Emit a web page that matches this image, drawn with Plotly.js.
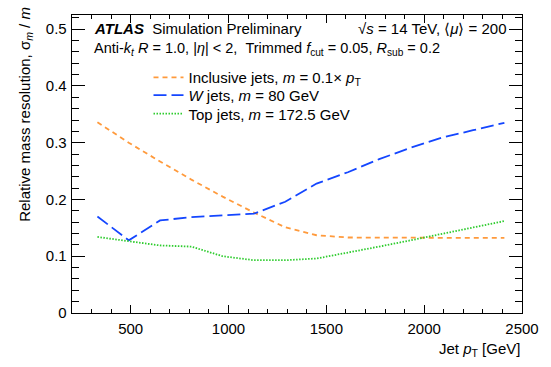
<!DOCTYPE html>
<html>
<head>
<meta charset="utf-8">
<script src="https://cdn.plot.ly/plotly-3.0.1.min.js"></script>
<style>html,body{margin:0;padding:0;background:#fff;}#chart{width:551px;height:367px;}</style>
</head>
<body>
<div id="chart"></div>
<script>
// Jet pT points [GeV]
const jetPt = [330, 490, 650, 810, 970, 1130, 1290, 1450, 1610, 1770, 1930, 2090, 2250, 2410];
// Relative mass resolution, sigma_m / m
const inclusiveJets = [0.336, 0.300, 0.267, 0.235, 0.205, 0.177, 0.151, 0.137, 0.133, 0.1325, 0.1325, 0.1325, 0.1325, 0.1325];
const wJets = [0.170, 0.128, 0.163, 0.169, 0.172, 0.175, 0.196, 0.228, 0.248, 0.271, 0.291, 0.309, 0.322, 0.335];
const topJets = [0.134, 0.127, 0.119, 0.117, 0.100, 0.093, 0.093, 0.096, 0.106, 0.117, 0.128, 0.139, 0.150, 0.162];

const seriesNames = [
  "Inclusive jets, <i>m</i> = 0.1× <i>p</i><sub>T</sub>",
  "<i>W</i> jets, <i>m</i> = 80 GeV",
  "Top jets, <i>m</i> = 172.5 GeV"
];

const FONT = "Liberation Sans, Arial, Helvetica, sans-serif";

const traces = [
  {x: jetPt, y: inclusiveJets, name: seriesNames[0], mode: "lines", legend: "legend",
   line: {color: "#FF9A3C", width: 1.8, dash: "5px,4px"}},
  {x: jetPt, y: wJets, name: seriesNames[1], mode: "lines", legend: "legend2",
   line: {color: "#1446FF", width: 1.8, dash: "13px,5px"}},
  {x: jetPt, y: topJets, name: seriesNames[2], mode: "lines", legend: "legend3",
   line: {color: "#2ECC2E", width: 1.8, dash: "1.5px,1.5px"}}
];

const axisCommon = {
  showgrid: false, zeroline: false, showline: true, linecolor: "#000", linewidth: 1.3,
  mirror: "allticks", ticks: "inside", tickcolor: "#000", tickwidth: 1,
  tickfont: {family: FONT, size: 15, color: "#000"}
};

function legendAt(yPaper) {
  return {x: 0.17, y: yPaper, xanchor: "left", yanchor: "middle", bgcolor: "rgba(0,0,0,0)",
          font: {family: FONT, size: 15, color: "#000"}, tracegroupgap: 0};
}

const layout = {
  width: 551, height: 367,
  margin: {l: 71.6, r: 29, t: 15, b: 54},
  paper_bgcolor: "#fff", plot_bgcolor: "#fff",
  font: {family: FONT, size: 15, color: "#000"},
  showlegend: true,
  legend: legendAt(0.790),
  legend2: legendAt(0.730),
  legend3: legendAt(0.668),
  xaxis: Object.assign({}, axisCommon, {
    range: [200, 2500], dtick: 500, tick0: 0, ticklen: 8, tickformat: "d",
    minor: {dtick: 100, ticklen: 4, ticks: "inside", tickcolor: "#000", tickwidth: 1},
    ticklabelstandoff: 2
  }),
  yaxis: Object.assign({}, axisCommon, {
    range: [0, 0.525], dtick: 0.1, tick0: 0, ticklen: 13,
    minor: {dtick: 0.02, ticklen: 7, ticks: "inside", tickcolor: "#000", tickwidth: 1},
    ticklabelstandoff: 1
  }),
  annotations: [
    {xref: "paper", yref: "paper", x: 1.0, y: -0.124, xanchor: "right", yanchor: "middle",
     text: "Jet <i>p</i><sub>T</sub> [GeV]", showarrow: false, font: {family: FONT, size: 15}},
    {xref: "paper", yref: "paper", x: -0.105, y: 1.035, xanchor: "center", yanchor: "top", textangle: -90,
     text: "Relative mass resolution, σ<sub><i>m</i></sub> / <i>m</i>", showarrow: false, font: {family: FONT, size: 15}},
    {xref: "paper", yref: "paper", x: 0.045, y: 0.955, xanchor: "left", yanchor: "middle",
     text: "<b><i>ATLAS</i></b>  Simulation Preliminary", showarrow: false, font: {family: FONT, size: 15}},
    {xref: "paper", yref: "paper", x: 0.97, y: 0.955, xanchor: "right", yanchor: "middle",
     text: "√<i>s</i> = 14 TeV, ⟨<i>μ</i>⟩ = 200", showarrow: false, font: {family: FONT, size: 15}},
    {xref: "paper", yref: "paper", x: 0.045, y: 0.885, xanchor: "left", yanchor: "middle",
     text: "Anti-<i>k</i><sub><i>t</i></sub> <i>R</i> = 1.0, |<i>η</i>| &lt; 2,  Trimmed <i>f</i><sub>cut</sub> = 0.05, <i>R</i><sub>sub</sub> = 0.2",
     showarrow: false, font: {family: FONT, size: 14.5}}
  ]
};

Plotly.newPlot("chart", traces, layout, {staticPlot: true, displayModeBar: false});
</script>
</body>
</html>
